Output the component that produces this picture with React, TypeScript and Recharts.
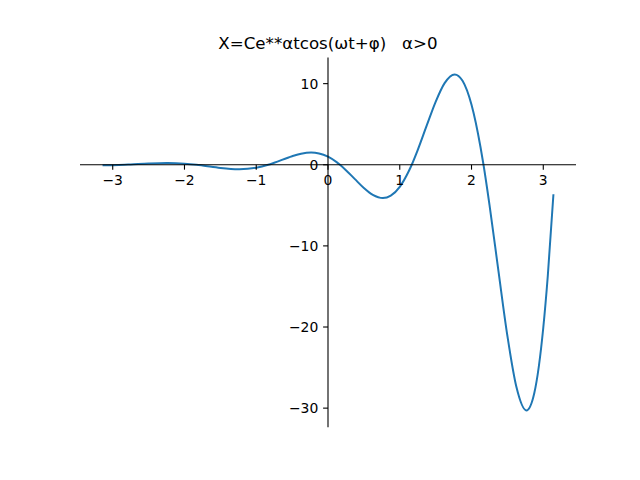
import React from "react";
import { LineChart, Line, XAxis, YAxis, ReferenceLine, ReferenceDot } from "recharts";

// t values and x(t) values
const tValues = [
  -3.1416, -3.0, -2.833, -2.75, -2.5, -2.25, -2.235, -2.0, -1.833, -1.75, -1.5, -1.25, -1.235,
  -1.0, -0.833, -0.75, -0.5, -0.375, -0.235, -0.125, 0.0, 0.125, 0.167, 0.25, 0.375, 0.5,
  0.625, 0.765, 0.875, 1.0, 1.125, 1.167, 1.25, 1.375, 1.5, 1.625, 1.765, 1.875, 2.0, 2.125,
  2.167, 2.25, 2.375, 2.5, 2.625, 2.765, 2.875, 3.0, 3.0625, 3.1416,
];
const xValues = [
  -0.071, -0.05, 0.0, 0.033, 0.142, 0.2036, 0.204, 0.135, 0.0, -0.09, -0.387, -0.5535, -0.555,
  -0.368, 0.0, 0.245, 1.05, 1.363, 1.508, 1.4, 1.0, 0.296, 0.0, -0.665, -1.772, -2.856,
  -3.704, -4.098, -3.806, -2.718, -0.804, 0.0, 1.807, 4.816, 7.762, 10.07, 11.14, 10.35, 7.389, 2.185,
  0.0, -4.911, -13.09, -21.1, -27.37, -30.28, -28.13, -20.09, -13.74, -3.64,
];
const xTicks = [-3, -2, -1, 0, 1, 2, 3];
const yTicks = [-30, -20, -10, 0, 10];
const title = "X=Ce**αtcos(ωt+φ)   α>0";

const data = tValues.map((t, i) => ({ t, x: xValues[i] }));
const fmt = (v: number) => (v < 0 ? "\u2212" + Math.abs(v) : String(v));
const FONT = "'DejaVu Sans', sans-serif";

export default function App() {
  return (
    <div style={{ position: "absolute", left: 0, top: 0, width: 640, height: 480, background: "#fff" }}>
      <LineChart
        width={640}
        height={480}
        data={data}
        margin={{ left: 80, right: 64, top: 57.6, bottom: 52.8 }}
      >
        <XAxis dataKey="t" type="number" domain={[-3.456, 3.456]} hide allowDataOverflow />
        <YAxis type="number" domain={[-32.35, 13.21]} hide allowDataOverflow />
        <Line
          type="monotone"
          dataKey="x"
          stroke="#1f77b4"
          strokeWidth={2}
          dot={false}
          isAnimationActive={false}
        />
        <ReferenceLine x={0} stroke="#000" strokeWidth={1.1} />
        <ReferenceLine y={0} stroke="#000" strokeWidth={1.1} />
        {xTicks.map((v) => (
          <ReferenceDot
            key={"xt" + v}
            x={v}
            y={0}
            r={0}
            ifOverflow="visible"
            shape={(p: any) => (
              <g>
                <line x1={p.cx} x2={p.cx} y1={p.cy} y2={p.cy + 4.9} stroke="#000" strokeWidth={1.1} />
                <text x={p.cx} y={p.cy + 20.5} textAnchor="middle" fontFamily={FONT} fontSize={13.9} fill="#000">
                  {fmt(v)}
                </text>
              </g>
            )}
          />
        ))}
        {yTicks.map((v) => (
          <ReferenceDot
            key={"yt" + v}
            x={0}
            y={v}
            r={0}
            ifOverflow="visible"
            shape={(p: any) => (
              <g>
                <line x1={p.cx - 4.9} x2={p.cx} y1={p.cy} y2={p.cy} stroke="#000" strokeWidth={1.1} />
                <text x={p.cx - 9.7} y={p.cy + 5} textAnchor="end" fontFamily={FONT} fontSize={13.9} fill="#000">
                  {fmt(v)}
                </text>
              </g>
            )}
          />
        ))}
      </LineChart>
      <svg width={640} height={480} style={{ position: "absolute", left: 0, top: 0, pointerEvents: "none" }}>
        <text x={328} y={49.3} textAnchor="middle" fontFamily={FONT} fontSize={16.67} fill="#000" style={{ whiteSpace: "pre" }}>
          {title}
        </text>
      </svg>
    </div>
  );
}
